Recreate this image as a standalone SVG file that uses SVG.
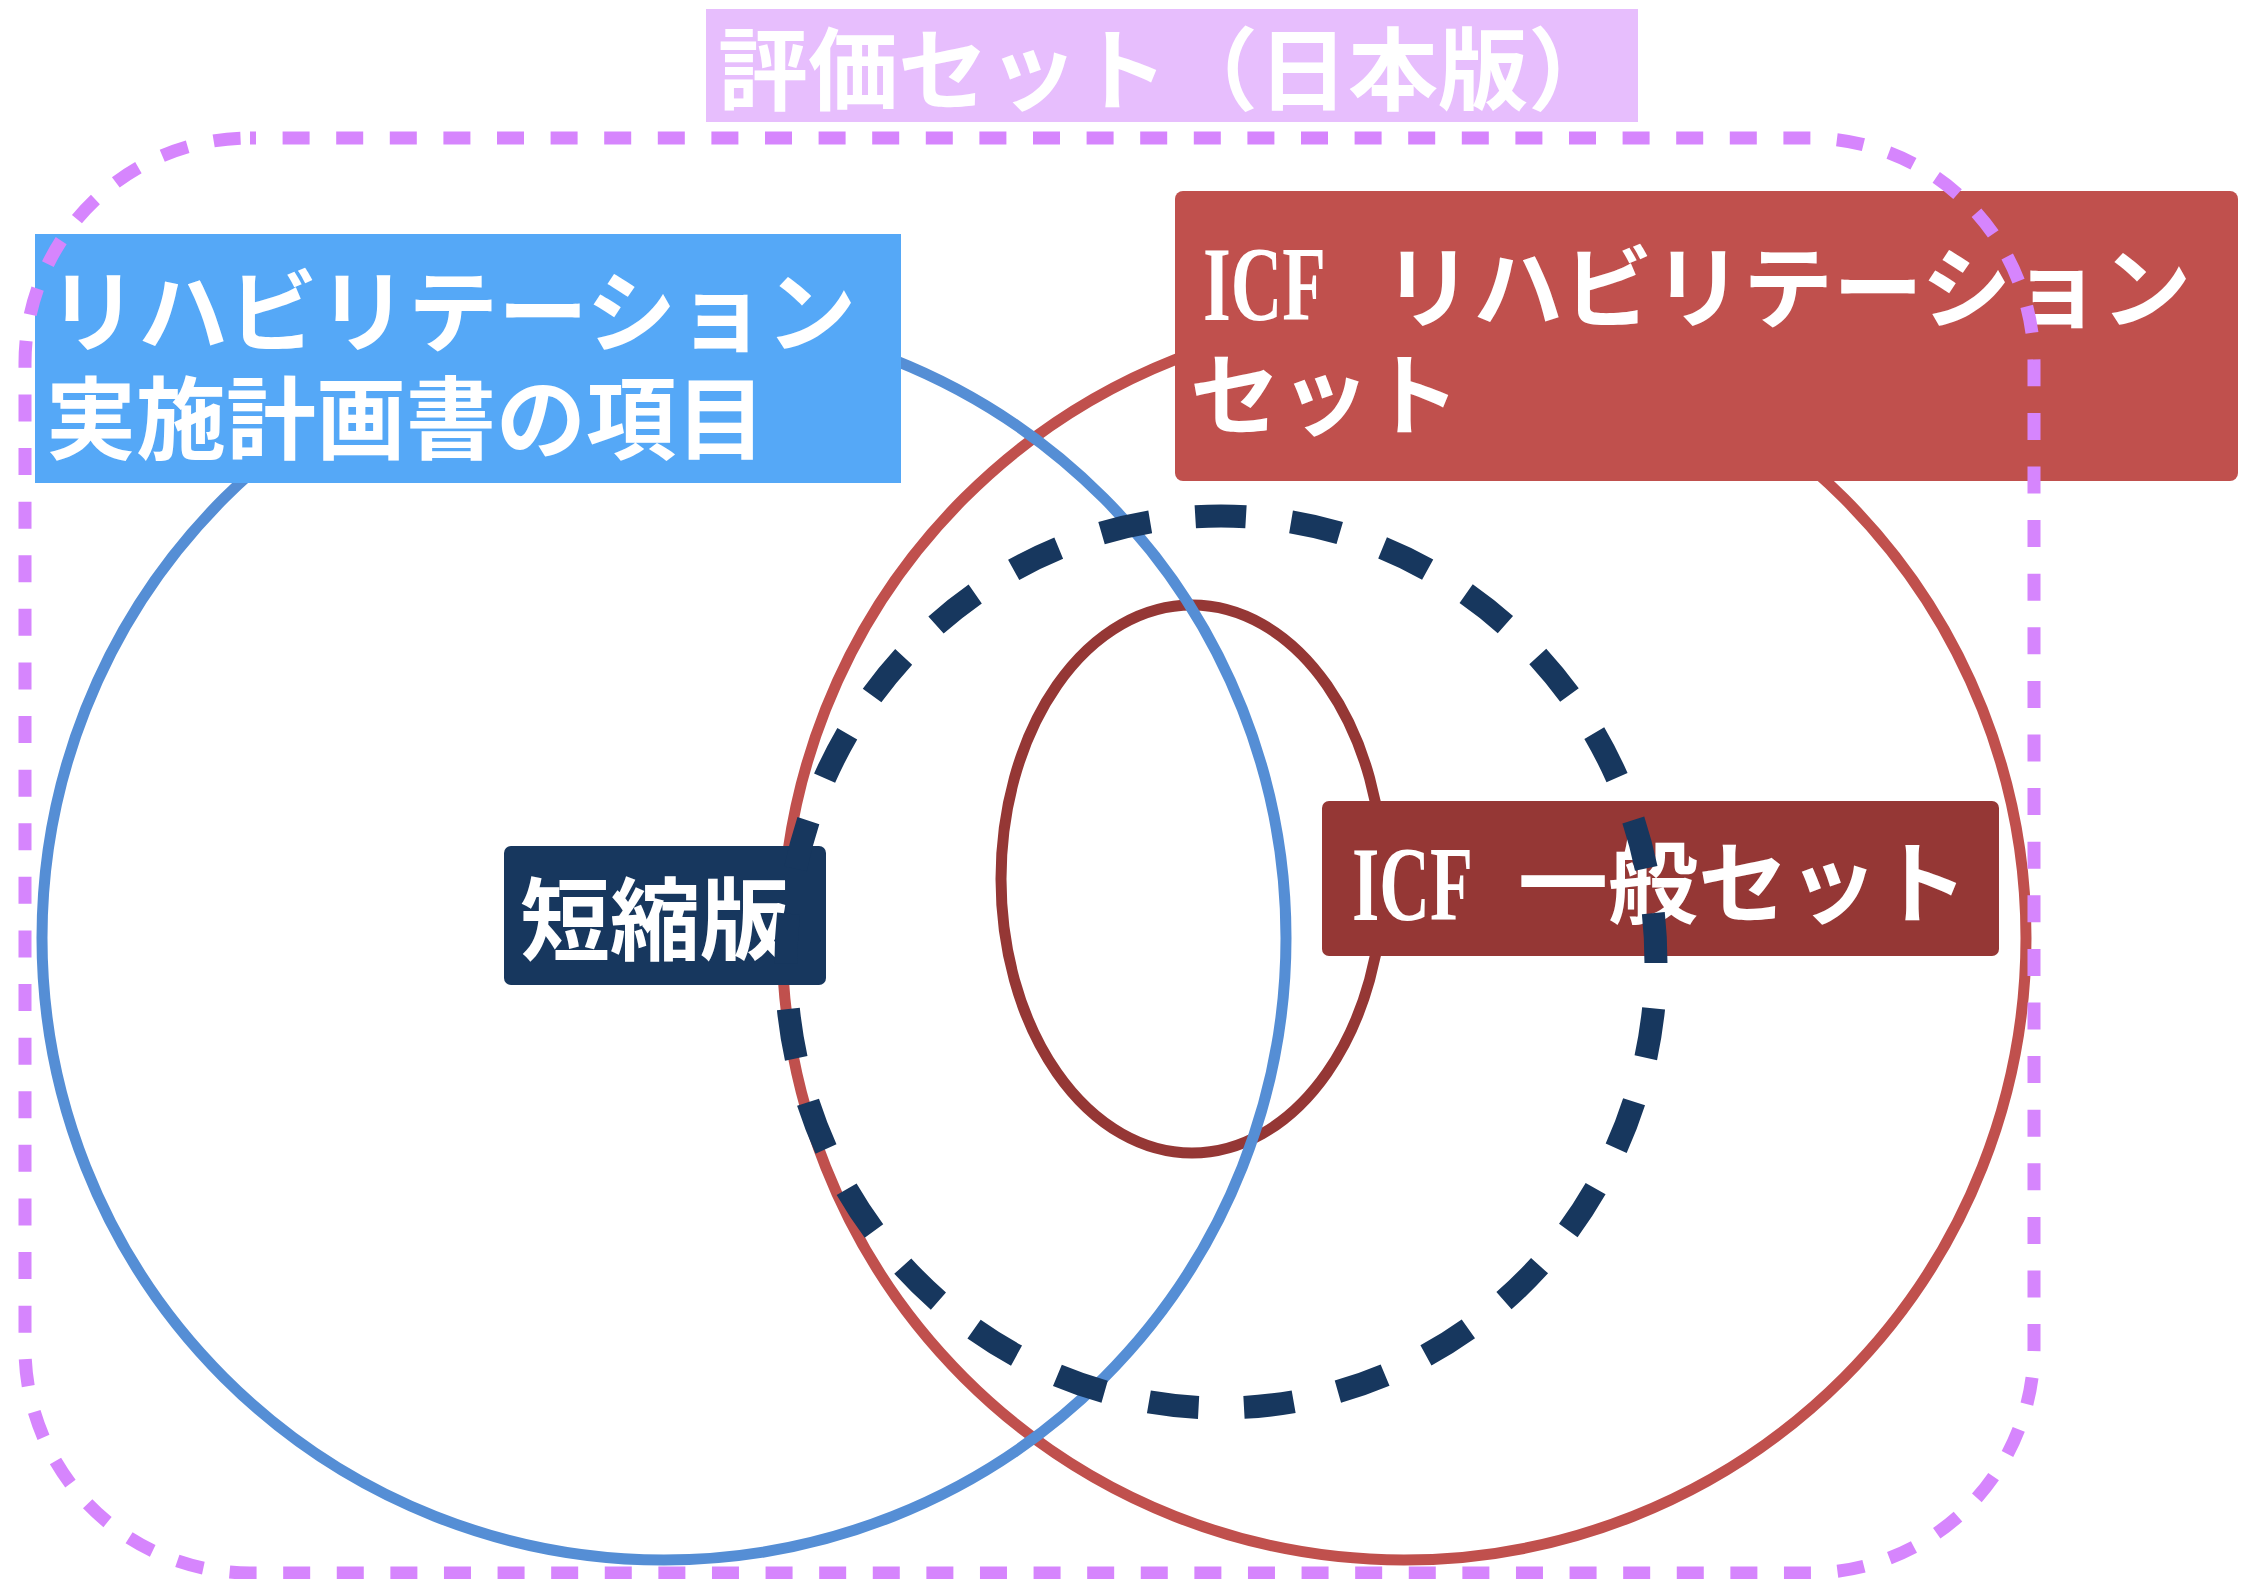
<svg xmlns="http://www.w3.org/2000/svg" width="2255" height="1579" viewBox="0 0 2255 1579">
<style>
.jp{font-family:"Noto Sans CJK JP","Noto Sans CJK SC",sans-serif;font-weight:700;fill:#ffffff;font-size:90px;dominant-baseline:central}
.icf{font-family:"Liberation Serif",serif;font-weight:700;fill:#ffffff;font-size:106px}
.set{fill:none}
</style>
<rect x="0" y="0" width="2255" height="1579" fill="#ffffff"/>
<g id="sets">
  <circle id="icf-rehab-circle" class="set" cx="1404" cy="938" r="622" stroke="#C0504D" stroke-width="11"/>
  <ellipse id="icf-general-ellipse" class="set" cx="1192" cy="879" rx="191" ry="274" stroke="#953735" stroke-width="11"/>
  <circle id="plan-circle" class="set" cx="664" cy="938" r="622" stroke="#558ED5" stroke-width="11"/>
</g>
<g id="node-title">
  <rect x="706" y="9" width="932" height="113" fill="#E7BEFD"/>
  <text class="jp" x="718" y="64" font-size="88">評価セット（日本版）</text>
</g>
<g id="node-plan">
  <rect x="35" y="234" width="866" height="249" fill="#55A8F7"/>
  <text class="jp" x="48" y="306">リハビリテーション</text>
  <text class="jp" x="46" y="413">実施計画書の項目</text>
</g>
<g id="node-icf-rehab">
  <rect x="1175" y="191" width="1063" height="290" rx="8" fill="#C0504D"/>
  <text class="icf" x="1203" y="320" textLength="123" lengthAdjust="spacingAndGlyphs">ICF</text>
  <text class="jp" x="1383" y="282">リハビリテーション</text>
  <text class="jp" x="1190" y="389">セット</text>
</g>
<g id="node-short">
  <rect x="504" y="846" width="322" height="139" rx="7" fill="#17375E"/>
  <text class="jp" x="520" y="914">短縮版</text>
</g>
<g id="node-icf-general">
  <rect x="1322" y="801" width="677" height="155" rx="7" fill="#953735"/>
  <text class="icf" x="1352" y="920" textLength="121" lengthAdjust="spacingAndGlyphs">ICF</text>
  <text class="jp" x="1518" y="877">一般セット</text>
</g>
<g id="connectors">
  <path id="short-version-outline" d="M1221,516 A435,446 0 1 1 1220.9,516 Z" fill="none" stroke="#17375E" stroke-width="23" stroke-dasharray="50 45.4" stroke-dashoffset="25"/>
  <rect id="japan-set-outline" x="25" y="138" width="2009" height="1435" rx="225" ry="225" fill="none" stroke="#D685FD" stroke-width="13" stroke-dasharray="27 26.6" stroke-dashoffset="21"/>
</g>
</svg>
